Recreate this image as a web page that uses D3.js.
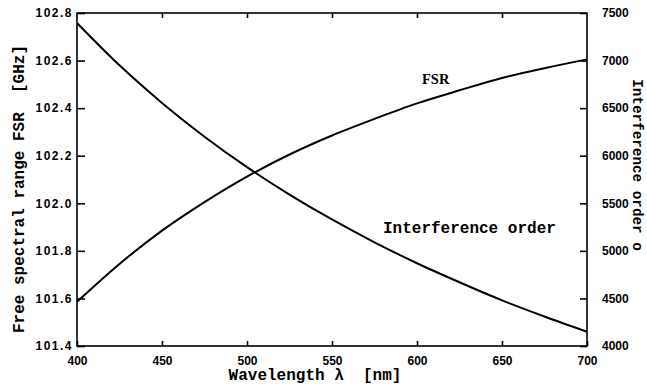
<!DOCTYPE html>
<html>
<head>
<meta charset="utf-8">
<script src="https://cdn.jsdelivr.net/npm/d3@7.9.0/dist/d3.min.js"></script>
<style>
  body { margin: 0; background: #fff; }
  svg { display: block; }
  .tick text { font-family: "Liberation Sans", Arial, sans-serif; font-weight: bold; font-size: 12px; fill: #000; }
  .left .tick text { letter-spacing: 1.5px; }
  .axis-label { font-family: "Liberation Mono", "DejaVu Sans Mono", monospace; font-weight: bold; fill: #000; }
</style>
</head>
<body>
<div id="chart"></div>
<script>
// Wavelength (nm) and the two curves
const wavelength = [400, 425, 450, 475, 500, 525, 550, 575, 600, 625, 650, 675, 700];
const fsr = [101.586, 101.745, 101.885, 102.005, 102.112, 102.205, 102.285, 102.355, 102.42, 102.475, 102.527, 102.568, 102.605];
const order = [7395, 6950, 6555, 6200, 5880, 5592, 5330, 5090, 4870, 4670, 4480, 4310, 4150];

const xTicks = [400, 450, 500, 550, 600, 650, 700];
const fsrTicks = [101.4, 101.6, 101.8, 102.0, 102.2, 102.4, 102.6, 102.8];
const orderTicks = [4000, 4500, 5000, 5500, 6000, 6500, 7000, 7500];

const W = 647, H = 384;
const plotLeft = 77, plotRight = 587, plotTop = 13, plotBottom = 346;

const svg = d3.select("#chart").append("svg")
  .attr("width", W)
  .attr("height", H);

const x = d3.scaleLinear().domain([400, 700]).range([plotLeft, plotRight]);
const yL = d3.scaleLinear().domain([101.4, 102.8]).range([plotBottom, plotTop]);
const yR = d3.scaleLinear().domain([4000, 7500]).range([plotBottom, plotTop]);

// axes, ticks pointing into the plot
const styleAxis = (g) => {
  g.select(".domain").remove();
  g.selectAll(".tick line").attr("stroke", "#000").attr("stroke-width", 1.6);
};

svg.append("g")
  .attr("class", "left")
  .attr("transform", `translate(${plotLeft},0)`)
  .call(d3.axisLeft(yL).tickValues(fsrTicks).tickFormat(d3.format(".1f"))
    .tickSizeInner(-8).tickSizeOuter(0).tickPadding(4))
  .call(styleAxis);

svg.append("g")
  .attr("transform", `translate(${plotRight},0)`)
  .call(d3.axisRight(yR).tickValues(orderTicks).tickFormat(d3.format("d"))
    .tickSizeInner(-7).tickSizeOuter(0).tickPadding(15))
  .call(styleAxis);

svg.append("g")
  .attr("transform", `translate(0,${plotBottom})`)
  .call(d3.axisBottom(x).tickValues(xTicks).tickFormat(d3.format("d"))
    .tickSizeInner(-5).tickSizeOuter(0).tickPadding(10))
  .call(styleAxis);

svg.append("g")
  .attr("transform", `translate(0,${plotTop})`)
  .call(d3.axisTop(x).tickValues(xTicks.slice(1, -1)).tickFormat("")
    .tickSizeInner(-5).tickSizeOuter(0))
  .call(styleAxis);

// frame
svg.append("rect")
  .attr("x", plotLeft).attr("y", plotTop)
  .attr("width", plotRight - plotLeft).attr("height", plotBottom - plotTop)
  .attr("fill", "none").attr("stroke", "#000").attr("stroke-width", 1.6);

// curves
const pts = (vals) => wavelength.map((w, i) => [w, vals[i]]);

svg.append("path")
  .datum(pts(fsr))
  .attr("fill", "none").attr("stroke", "#000").attr("stroke-width", 2)
  .attr("d", d3.line().x(d => x(d[0])).y(d => yL(d[1])).curve(d3.curveCatmullRom));

svg.append("path")
  .datum(pts(order))
  .attr("fill", "none").attr("stroke", "#000").attr("stroke-width", 2)
  .attr("d", d3.line().x(d => x(d[0])).y(d => yR(d[1])).curve(d3.curveCatmullRom));

// curve labels
svg.append("text")
  .attr("x", 422).attr("y", 84)
  .style("font-family", "'Liberation Serif', 'Times New Roman', serif")
  .style("font-weight", "bold").style("font-size", "14.5px")
  .text("FSR");

svg.append("text")
  .attr("class", "axis-label")
  .attr("x", 383).attr("y", 233)
  .style("font-size", "16px")
  .text("Interference order");

// axis titles
svg.append("text")
  .attr("class", "axis-label")
  .attr("text-anchor", "middle")
  .attr("x", 315).attr("y", 380)
  .style("font-size", "16px")
  .style("white-space", "pre")
  .text("Wavelength λ  [nm]");

svg.append("text")
  .attr("class", "axis-label")
  .attr("text-anchor", "middle")
  .attr("transform", "translate(24,189) rotate(-90)")
  .style("font-size", "16px")
  .style("white-space", "pre")
  .text("Free spectral range FSR  [GHz]");

svg.append("text")
  .attr("class", "axis-label")
  .attr("text-anchor", "middle")
  .attr("transform", "translate(633,165) rotate(90)")
  .style("font-size", "14.3px")
  .text("Interference order o");
</script>
</body>
</html>
